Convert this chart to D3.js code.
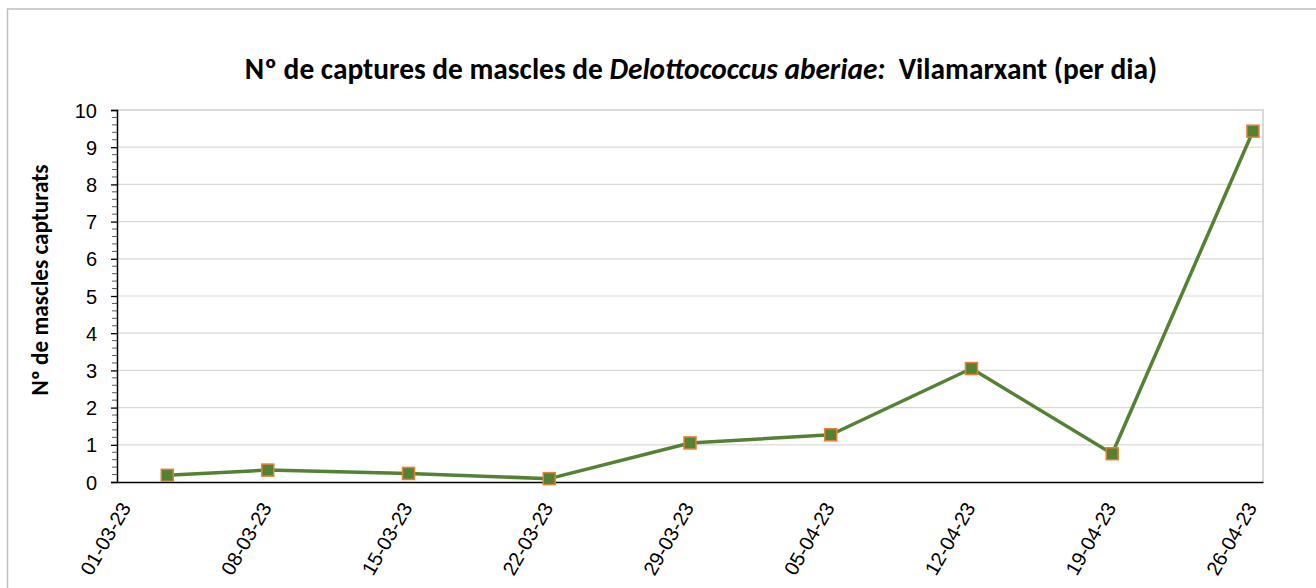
<!DOCTYPE html>
<html><head><meta charset="utf-8">
<script src="https://cdn.jsdelivr.net/npm/d3@7"></script>
<style>
html,body{margin:0;padding:0;background:#fff;}
svg{display:block;font-family:Carlito, Calibri, Lato, "Open Sans", sans-serif;}
</style></head>
<body>
<svg id="chart" width="1316" height="588"></svg>
<script>
const dates = ["03-03-23","08-03-23","15-03-23","22-03-23","29-03-23","05-04-23","12-04-23","19-04-23","26-04-23"];
const values = [0.18, 0.32, 0.23, 0.09, 1.05, 1.27, 3.05, 0.76, 9.43];
const tickLabels = ["01-03-23","08-03-23","15-03-23","22-03-23","29-03-23","05-04-23","12-04-23","19-04-23","26-04-23"];
const yTicks = [0,1,2,3,4,5,6,7,8,9,10];
const titleParts = [
  {t:"Nº de captures de mascles de ", i:false},
  {t:"Delottococcus aberiae:", i:true},
  {t:"  Vilamarxant (per dia)", i:false}
];
const yTitle = "Nº de mascles capturats";

const parse = d3.timeParse("%d-%m-%y");
const DAY = 864e5;
const svg = d3.select("#chart");
const m = {left:117, right:1263, top:110, bottom:482};

// outer border
svg.append("rect").attr("x",7.5).attr("y",9).attr("width",1320).attr("height",600)
  .attr("fill","none").attr("stroke","#bfbfbf").attr("stroke-width",1.5);

const t0 = parse(tickLabels[0]), t1 = parse(tickLabels[tickLabels.length-1]);
const x = d3.scaleTime()
  .domain([new Date(+t0 - DAY/2), new Date(+t1 + DAY/2)])
  .range([m.left, m.right]);
const y = d3.scaleLinear().domain([0,10]).range([m.bottom, m.top]);

// gridlines
svg.append("g").selectAll("line").data(yTicks.filter(d=>d>0)).join("line")
  .attr("x1",m.left).attr("x2",m.right)
  .attr("y1",d=>y(d)).attr("y2",d=>y(d))
  .attr("stroke","#d9d9d9").attr("stroke-width",d=>d===10?2:1.2);
// right border of plot
svg.append("line").attr("x1",m.right).attr("x2",m.right).attr("y1",m.top-1).attr("y2",m.bottom)
  .attr("stroke","#d9d9d9").attr("stroke-width",2);

// minor ticks
const minor = d3.range(0,10.001,0.2).filter(v=>Math.abs(v-Math.round(v))>1e-6);
svg.append("g").selectAll("line").data(minor).join("line")
  .attr("x1",m.left-5).attr("x2",m.left)
  .attr("y1",d=>y(d)).attr("y2",d=>y(d))
  .attr("stroke","#595959").attr("stroke-width",1);

// y axis
const yAxis = svg.append("g").attr("transform",`translate(${m.left},0)`)
  .call(d3.axisLeft(y).tickValues(yTicks).tickSize(6).tickPadding(14).tickFormat(d3.format("d")));
yAxis.select(".domain").attr("stroke","#000").attr("stroke-width",1.5);
yAxis.selectAll(".tick line").attr("stroke","#000").attr("stroke-width",1.3);
yAxis.selectAll("text").attr("font-size",20).attr("fill","#000").attr("dy","0.35em");

// x axis
const xAxis = svg.append("g").attr("transform",`translate(0,${m.bottom})`)
  .call(d3.axisBottom(x).tickValues(tickLabels.map(s=>new Date(+parse(s)))).tickSize(0).tickFormat(d3.timeFormat("%d-%m-%y")));
xAxis.select(".domain").attr("stroke","#000").attr("stroke-width",1.5);
xAxis.selectAll("text").attr("font-size",20).attr("fill","#000")
  .attr("text-anchor","end").attr("dy","0.35em")
  .attr("transform","translate(-2,22) rotate(-60)").attr("x",0).attr("y",0);

// line
const pts = dates.map((d,i)=>({d:parse(d), v:values[i]}));
svg.append("path").datum(pts)
  .attr("d", d3.line().x(p=>x(p.d)).y(p=>y(p.v)))
  .attr("fill","none").attr("stroke","#548235").attr("stroke-width",3.5).attr("stroke-linejoin","round");
const ms = 12;
svg.append("g").selectAll("rect").data(pts).join("rect")
  .attr("x",p=>x(p.d)-ms/2).attr("y",p=>y(p.v)-ms/2).attr("width",ms).attr("height",ms)
  .attr("fill","#548235").attr("stroke","#ed7d31").attr("stroke-width",1.5);

// title
const title = svg.append("text").attr("x",701).attr("y",79).attr("text-anchor","middle")
  .attr("font-weight","bold").attr("font-size",24).attr("fill","#000").attr("xml:space","preserve");
title.selectAll("tspan").data(titleParts).join("tspan")
  .attr("font-style",d=>d.i?"italic":"normal").text(d=>d.t);
let tw = title.node().getComputedTextLength();
title.attr("font-size", 24*913/tw);

// y title
const yt = svg.append("text").attr("transform","translate(48,280) rotate(-90)")
  .attr("text-anchor","middle").attr("font-weight","bold").attr("font-size",19).attr("fill","#000").text(yTitle);
let yw = yt.node().getComputedTextLength();
yt.attr("font-size", 19*231/yw);
</script>
</body></html>
